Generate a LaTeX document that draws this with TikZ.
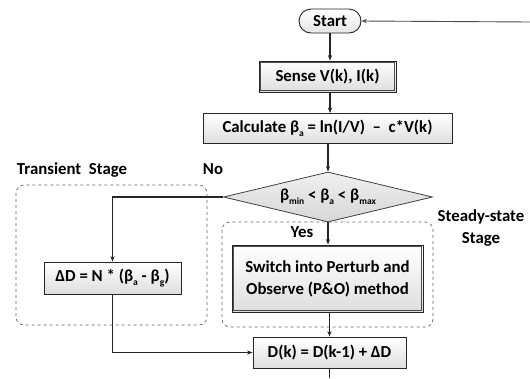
\documentclass[tikz,border=0pt]{standalone}
\usepackage{fontspec}
\setmainfont{Carlito}
\usetikzlibrary{shapes.geometric,shapes.misc,arrows.meta,calc}
\newcommand\mysb[1]{\raisebox{-0.45ex}{\fontsize{9.5}{10}\selectfont #1}}
\begin{document}
\begin{tikzpicture}[x=1pt,y=-1pt,
  font=\fontsize{16.8}{20}\selectfont\bfseries,
  every node/.style={inner sep=0pt},
  boxone/.style={draw=black!85, line width=0.9pt, top color=white, bottom color=black!13, align=center},
  inner/.style={draw=black!70, line width=0.6pt},
  region/.style={draw=black!60, dashed, line width=0.7pt, rounded corners=8pt},
  conn/.style={draw=black!85, line width=1.1pt, -{Stealth[length=5.5pt,width=4.2pt]}},
  plain/.style={draw=black!85, line width=1.1pt},
  lbl/.style={align=center}]
\useasboundingbox (0,0) rectangle (530,378);
% regions
\draw[region] (16,185) rectangle (207,325);
\draw[region] (222,222) rectangle (433,327);
% nodes
\node[draw=black!85, line width=0.9pt, top color=white, bottom color=black!10, rounded rectangle, minimum width=62pt, minimum height=24pt] (start) at (330,21) {Start};
\node[boxone, minimum width=137pt, minimum height=31pt] (sense) at (327.5,76.5) {Sense V(k), I(k)};
\node[boxone, minimum width=249pt, minimum height=30pt] (calc) at (327.5,128.5) {Calculate β\mysb{a} = ln(I/V)\ \ –\ \ c*V(k)};
\node[diamond, draw=black!75, line width=0.8pt, top color=black!6, bottom color=black!16, minimum width=209pt, minimum height=50pt, aspect=4] (dec) at (328,197) {β\mysb{min} < β\mysb{a} < β\mysb{max}};
\node[boxone, minimum width=137pt, minimum height=32pt] (dD) at (112.5,278) {ΔD = N * (β\mysb{a} - β\mysb{g})};
\node[boxone, minimum width=191pt, minimum height=67pt, font=\fontsize{16.8}{22}\selectfont\bfseries] (sw) at (327.5,278.5) {Switch into Perturb and\\Observe (P\&O) method};
\node[boxone, minimum width=153pt, minimum height=31pt] (dk) at (329.5,352.5) {D(k) = D(k-1) + ΔD};
% inner lines of the double-bordered boxes
\draw[inner] ($(sense.north west)+(2.2,2.2)$) rectangle ($(sense.south east)+(-2.2,-2.2)$);
\draw[inner] ($(sw.north west)+(2.2,2.2)$) rectangle ($(sw.south east)+(-2.2,-2.2)$);
% labels
\node[lbl] (no) at (213,169) {No};
\node[lbl] (yes) at (302,232) {Yes};
\node[lbl] (trl) at (72,170) {Transient\ \ Stage};
\node[lbl, font=\fontsize{16.8}{22}\selectfont\bfseries] (stl) at (481,228) {Steady-state\\Stage};
% free ends
\coordinate (fb) at (530,22);
\coordinate (out) at (329.5,378);
% connectors
\draw[conn] (start.south) -- (start.south |- sense.north);
\draw[conn] (sense.south -| start.south) -- (start.south |- calc.north);
\draw[conn] (calc.south -| dec.north) -- (dec.north);
\draw[conn] (dec.west) -| (dD.north);
\draw[conn] (dec.south) -- (sw.north -| dec.south);
\draw[conn] (sw.south -| dk.north) -- (dk.north);
\draw[conn] (dD.south) |- (dk.west);
\draw[plain] (dk.south) -- (out);
\draw[conn, draw=black!70, line width=0.9pt] (fb) -- (start.east);
\end{tikzpicture}
\end{document}
